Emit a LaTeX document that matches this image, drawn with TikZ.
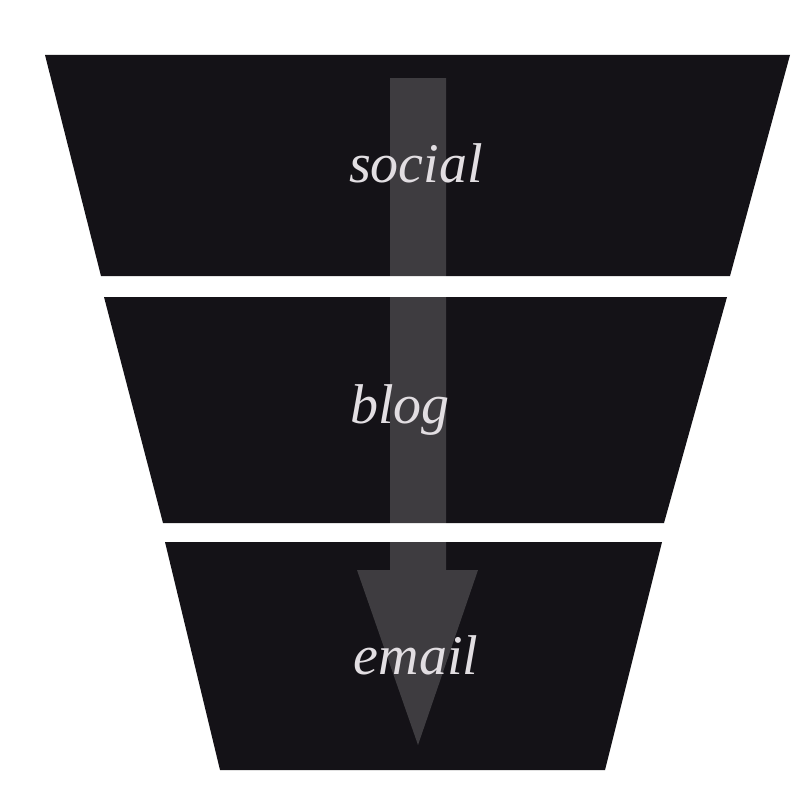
\documentclass[tikz,border=0pt]{standalone}
\usepackage{fontspec}
\setmainfont{Liberation Serif}
\begin{document}
\begin{tikzpicture}[x=1pt,y=-1pt]
\definecolor{funnel}{HTML}{141217}
\definecolor{txt}{HTML}{E2DEE2}
\tikzset{seg/.style={fill=funnel,draw=none},
lbl/.style={text=txt,font=\fontsize{56}{60}\selectfont\itshape,inner sep=0pt}}
\useasboundingbox (0,0) rectangle (800,800);
\fill[white] (0,0) rectangle (800,800);
\path[seg] (45,55) -- (790,55) -- (730,276) -- (101,276) -- cycle;
\path[seg] (104,297) -- (727,297) -- (664,523) -- (163,523) -- cycle;
\path[seg] (165,542) -- (662,542) -- (605,770) -- (220,770) -- cycle;
\fill[white,opacity=0.18] (390,78) -- (446,78) -- (446,570) -- (478,570) -- (418,745) -- (357,570) -- (390,570) -- cycle;
\node[lbl] (social) at (416,163) {social};
\node[lbl] (blog) at (400,410) {blog};
\node[lbl] (email) at (416,655) {email};
\end{tikzpicture}
\end{document}
